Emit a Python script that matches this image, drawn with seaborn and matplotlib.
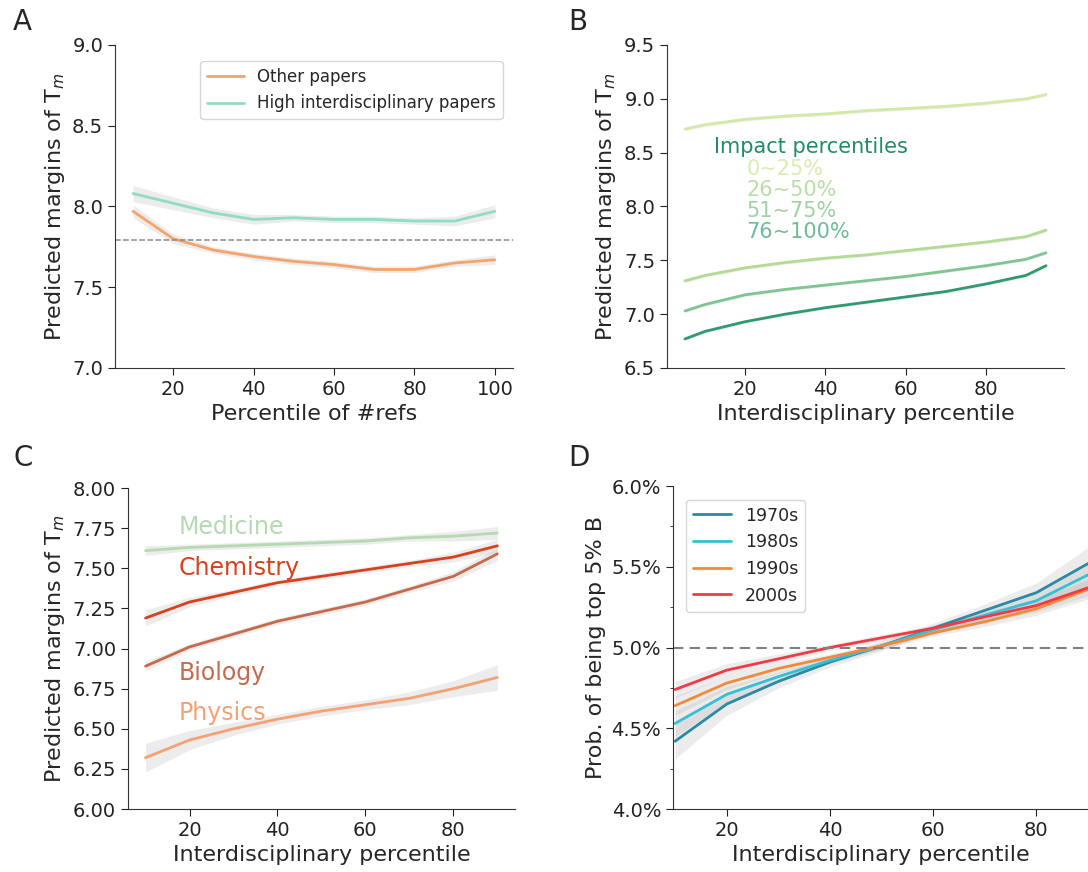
import numpy as np
import matplotlib
matplotlib.use("Agg")
import matplotlib.pyplot as plt
from matplotlib.ticker import MultipleLocator, FuncFormatter
import seaborn as sns

# ---- panel A: predicted margins vs #refs percentile
refs_pct = [10, 20, 30, 40, 50, 60, 70, 80, 90, 100]
other_papers = [7.97, 7.80, 7.73, 7.69, 7.66, 7.64, 7.61, 7.61, 7.65, 7.67]
high_inter = [8.08, 8.02, 7.96, 7.92, 7.93, 7.92, 7.92, 7.91, 7.91, 7.97]
other_ci = [0.04, 0.03, 0.02, 0.02, 0.02, 0.02, 0.02, 0.02, 0.02, 0.03]
high_ci = [0.05, 0.04, 0.03, 0.03, 0.02, 0.02, 0.02, 0.02, 0.03, 0.04]
baseline_a = 7.79

# ---- panel B: by impact percentile group
inter_pct_b = [5, 10, 20, 30, 40, 50, 60, 70, 80, 90, 95]
impact_groups = ["0~25%", "26~50%", "51~75%", "76~100%"]
impact_0_25 = [8.72, 8.76, 8.81, 8.84, 8.86, 8.89, 8.91, 8.93, 8.96, 9.00, 9.04]
impact_26_50 = [7.31, 7.36, 7.43, 7.48, 7.52, 7.55, 7.59, 7.63, 7.67, 7.72, 7.78]
impact_51_75 = [7.03, 7.09, 7.18, 7.23, 7.27, 7.31, 7.35, 7.40, 7.45, 7.51, 7.57]
impact_76_100 = [6.77, 6.84, 6.93, 7.00, 7.06, 7.11, 7.16, 7.21, 7.28, 7.36, 7.45]
impact_ci = 0.015

# ---- panel C: by field
inter_pct_c = [10, 20, 30, 40, 50, 60, 70, 80, 90]
fields = ["Medicine", "Chemistry", "Biology", "Physics"]
medicine = [7.61, 7.63, 7.64, 7.65, 7.66, 7.67, 7.69, 7.70, 7.72]
chemistry = [7.19, 7.29, 7.35, 7.41, 7.45, 7.49, 7.53, 7.57, 7.64]
biology = [6.89, 7.01, 7.09, 7.17, 7.23, 7.29, 7.37, 7.45, 7.59]
physics = [6.32, 6.43, 6.50, 6.56, 6.61, 6.65, 6.69, 6.75, 6.82]
medicine_ci = [0.03, 0.02, 0.02, 0.02, 0.02, 0.02, 0.02, 0.03, 0.04]
chemistry_ci = [0.05, 0.03, 0.02, 0.02, 0.02, 0.02, 0.02, 0.03, 0.04]
biology_ci = [0.03, 0.02, 0.02, 0.02, 0.02, 0.02, 0.02, 0.03, 0.04]
physics_ci = [0.09, 0.06, 0.04, 0.03, 0.03, 0.03, 0.04, 0.05, 0.08]

# ---- panel D: prob. of top 5% B by decade (percent)
inter_pct_d = [10, 20, 30, 40, 50, 60, 70, 80, 90]
decades = ["1970s", "1980s", "1990s", "2000s"]
p1970 = [4.42, 4.65, 4.79, 4.91, 5.01, 5.12, 5.23, 5.34, 5.52]
p1980 = [4.53, 4.71, 4.82, 4.92, 5.01, 5.11, 5.20, 5.29, 5.45]
p1990 = [4.64, 4.78, 4.87, 4.94, 5.01, 5.09, 5.16, 5.24, 5.36]
p2000 = [4.74, 4.86, 4.93, 5.00, 5.06, 5.12, 5.19, 5.26, 5.37]
p1970_ci = [0.11, 0.07, 0.04, 0.03, 0.03, 0.03, 0.04, 0.06, 0.10]
p1980_ci = [0.08, 0.05, 0.03, 0.02, 0.02, 0.02, 0.03, 0.05, 0.08]
p1990_ci = [0.06, 0.04, 0.03, 0.02, 0.02, 0.02, 0.03, 0.04, 0.06]
p2000_ci = [0.05, 0.04, 0.03, 0.02, 0.02, 0.02, 0.03, 0.04, 0.05]

sns.set_style("ticks")
plt.rcParams["font.family"] = ["DejaVu Sans"]
plt.rcParams["xtick.labelsize"] = 14
plt.rcParams["ytick.labelsize"] = 14
plt.rcParams["axes.labelsize"] = 16
plt.rcParams["axes.edgecolor"] = "#333333"
plt.rcParams["xtick.color"] = "#222222"
plt.rcParams["ytick.color"] = "#222222"

fig = plt.figure(figsize=(10.88, 8.72), dpi=100)
axA = fig.add_axes([0.1057, 0.578, 0.3658, 0.3704])
axB = fig.add_axes([0.6130, 0.578, 0.3650, 0.3704])
axC = fig.add_axes([0.1176, 0.0722, 0.3557, 0.3681])
axD = fig.add_axes([0.6186, 0.0722, 0.3814, 0.3704])

band = dict(color="#9a9a9a", alpha=0.18, linewidth=0)
ylab = "Predicted margins of T$_m$"


def draw(ax, x, y, ci, color, label=None):
    y = np.asarray(y)
    ci = np.asarray(ci)
    ax.fill_between(x, y - ci, y + ci, **band)
    sns.lineplot(x=x, y=y, color=color, linewidth=2, ax=ax,
                 label=label, legend=label is not None)


# A
draw(axA, refs_pct, other_papers, other_ci, "#f6a36c", "Other papers")
draw(axA, refs_pct, high_inter, high_ci, "#92dcc2", "High interdisciplinary papers")
axA.axhline(baseline_a, color="#888888", linestyle="--", linewidth=1.1)
axA.set_ylim(7.0, 9.0)
axA.yaxis.set_major_locator(MultipleLocator(0.5))
axA.yaxis.set_major_formatter(FuncFormatter(lambda v, p: f"{v:.1f}"))
axA.set_xticks([20, 40, 60, 80, 100])
axA.set_xlabel("Percentile of #refs")
axA.set_ylabel(ylab)
axA.legend(loc="upper right", bbox_to_anchor=(0.995, 0.975), fontsize=12,
           frameon=True, handlelength=2.2)

# B
b_series = [impact_0_25, impact_26_50, impact_51_75, impact_76_100]
b_lines = ["#d3eaa6", "#b3db94", "#80c591", "#2f9a6d"]
b_texts = ["#d8edb0", "#b8dea2", "#9dd2a4", "#6bbd93"]
for s, c in zip(b_series, b_lines):
    draw(axB, inter_pct_b, s, [impact_ci] * len(s), c)
axB.set_ylim(6.5, 9.5)
axB.yaxis.set_major_locator(MultipleLocator(0.5))
axB.yaxis.set_major_formatter(FuncFormatter(lambda v, p: f"{v:.1f}"))
axB.set_xticks([20, 40, 60, 80])
axB.set_xlabel("Interdisciplinary percentile")
axB.set_ylabel(ylab)
axB.text(0.118, 0.685, "Impact percentiles", transform=axB.transAxes,
         color="#1f8c6a", fontsize=15, va="center")
for i, (g, c) in enumerate(zip(impact_groups, b_texts)):
    axB.text(0.200, 0.617 - 0.065 * i, g, transform=axB.transAxes,
             color=c, fontsize=15, va="center")

# C
c_series = [medicine, chemistry, biology, physics]
c_cis = [medicine_ci, chemistry_ci, biology_ci, physics_ci]
c_colors = ["#b3dab0", "#d9401c", "#c56a4d", "#f5a174"]
c_label_y = [7.755, 7.505, 6.85, 6.60]
for s, ci, c, f, ly in zip(c_series, c_cis, c_colors, fields, c_label_y):
    draw(axC, inter_pct_c, s, ci, c)
    axC.text(17.5, ly, f, color=c, fontsize=17, va="center")
axC.set_ylim(6.0, 8.0)
axC.yaxis.set_major_locator(MultipleLocator(0.25))
axC.yaxis.set_major_formatter(FuncFormatter(lambda v, p: f"{v:.2f}"))
axC.set_xticks([20, 40, 60, 80])
axC.set_xlabel("Interdisciplinary percentile")
axC.set_ylabel(ylab)

# D
d_series = [p1970, p1980, p1990, p2000]
d_cis = [p1970_ci, p1980_ci, p1990_ci, p2000_ci]
d_colors = ["#2b89a6", "#36c0d6", "#f28a3a", "#f23a44"]
for s, ci, c, d in zip(d_series, d_cis, d_colors, decades):
    draw(axD, inter_pct_d, s, ci, c, d)
axD.axhline(5.0, color="#808080", linestyle=(0, (5, 3)), linewidth=1.5)
axD.set_ylim(4.0, 6.0)
axD.set_xlim(9.6, 90)
axD.yaxis.set_major_locator(MultipleLocator(0.5))
axD.yaxis.set_minor_locator(MultipleLocator(0.25))
axD.yaxis.set_major_formatter(FuncFormatter(lambda v, p: f"{v:.1f}%"))
axD.set_xticks([20, 40, 60, 80])
axD.set_xlabel("Interdisciplinary percentile")
axD.set_ylabel("Prob. of being top 5% B")
axD.legend(loc="upper left", bbox_to_anchor=(0.01, 0.985), fontsize=12.5,
           frameon=True, handlelength=2.2)

for ax in (axA, axB, axC, axD):
    sns.despine(ax=ax)
    ax.tick_params(length=5)

for lbl, (x, y) in zip("ABCD", [(0.012, 0.975), (0.522, 0.975),
                                 (0.012, 0.475), (0.522, 0.475)]):
    fig.text(x, y, lbl, fontsize=20, va="center", ha="left")

fig.savefig("out.png", dpi=100)
